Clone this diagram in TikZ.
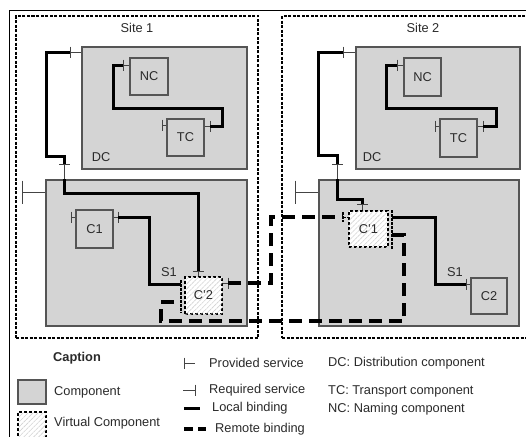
\documentclass[tikz,border=0pt]{standalone}
\usepackage{fontspec}
\setmainfont{Liberation Sans}
\usetikzlibrary{patterns,patterns.meta,calc}
\definecolor{compfill}{HTML}{D4D4D4}
\definecolor{edgec}{HTML}{555555}
\definecolor{txt}{HTML}{2A2A2A}
\newcommand\vtk[2][5.5]{\draw[iface] ([yshift=#1pt]#2) -- ([yshift=-#1pt]#2);}
\newcommand\htk[2][5.5]{\draw[iface] ([xshift=#1pt]#2) -- ([xshift=-#1pt]#2);}
\begin{document}
\begin{tikzpicture}[x=1pt,y=-1pt,
  every node/.style={font=\fontsize{12.8}{14}\selectfont, inner sep=0pt, text=txt},
  comp/.style={draw=edgec, fill=compfill, line width=1.1pt, minimum width=37pt, minimum height=37pt},
  vcomp/.style={draw=black, line width=1.4pt, dash pattern=on 3pt off 2pt, fill=white,
     postaction={pattern={Lines[angle=45,distance=3.5pt,line width=0.6pt]}, pattern color=gray!35},
     minimum width=37pt, minimum height=37pt},
  site/.style={draw=black, line width=1.3pt, dash pattern=on 3pt off 1.5pt},
  iface/.style={draw=edgec!80!black, line width=1pt},
  vdash/.style={draw=black, line width=1.3pt, dash pattern=on 2.5pt off 1.5pt},
  lb/.style={draw=black, line width=3pt, line join=miter},
  rb/.style={draw=black, line width=4pt, dash pattern=on 13pt off 7pt},
  lbl/.style={anchor=west}]
\useasboundingbox (0,0) rectangle (526,436);
\fill[white] (0,0) rectangle (526,436);
% outer frame
\draw[line width=0.8pt] (9,450) -- (9,10) -- (540,10);
% sites
\node[site, minimum width=242pt, minimum height=322pt] (S1) at (137,177) {};
\node[site, minimum width=253pt, minimum height=322pt] (S2) at (408.5,177) {};
\node (S1l) at (137,28) {Site 1};
\node (S2l) at (423,28) {Site 2};
% ---------- site 1 ----------
\node[comp, minimum width=165pt, minimum height=122pt] (DC1) at (164.5,108) {};
\node (DC1l) at (101,157) {DC};
\node[comp, minimum width=38pt] (NC1) at (149,76.5) {NC};
\node[comp] (TC1) at (185.5,137.5) {TC};
\node[comp, minimum width=201pt, minimum height=146pt] (LO1) at (146.5,253) {};
\node[comp, minimum height=38pt] (C1) at (94.5,229) {C1};
\node[vcomp] (V2) at (203.5,295.5) {C'2};
\node (S1a) at (169,272) {S1};
% interfaces site 1
\coordinate (dc1p) at (70,52);  \draw[iface] (dc1p) -- (dc1p -| DC1.west); \vtk{dc1p}
\coordinate (nc1r) at (123,65); \draw[iface] (nc1r) -- (nc1r -| NC1.west); \vtk{nc1r}
\coordinate (tc1p) at (210,126); \draw[iface] (tc1p) -- (tc1p -| TC1.east); \vtk{tc1p}
\coordinate (tc1l) at (162,125); \draw[iface] (tc1l) -- (tc1l -| TC1.west); \vtk{tc1l}
\coordinate (lo1t) at (64,164); \draw[iface] (lo1t) -- (lo1t |- LO1.north); \htk{lo1t}
\coordinate (lo1p) at (22,192); \draw[iface] (lo1p) -- (lo1p -| LO1.west); \vtk[11.5]{lo1p}
\coordinate (c1l) at (71,217); \draw[iface] (c1l) -- (c1l -| C1.west); \vtk{c1l}
\coordinate (c1r) at (118,217); \draw[iface] (c1r) -- (c1r -| C1.east); \vtk{c1r}
\coordinate (v2t) at (198,271); \draw[iface] (v2t) -- (v2t |- V2.north); \htk{v2t}
\coordinate (v2r) at (228,283); \draw[iface] (v2r) -- (v2r -| V2.east); \vtk{v2r}
\coordinate (v2l) at (181,284); \draw[vdash] ([yshift=4pt]v2l) -- ([yshift=-29pt]v2l);
\coordinate (v2x) at (174,302);
% local bindings site 1
\draw[lb] (nc1r) -| (113,108) -| (222,126) -- (tc1p);
\draw[lb] (dc1p) -| (46,156) -| (lo1t);
\draw[lb] (lo1t |- LO1.north) -- (64,193) -| (v2t);
\draw[lb] (c1r) -| (149,284) -- (v2l);
% ---------- site 2 ----------
\node[comp, minimum width=164pt, minimum height=122pt] (DC2) at (438,108) {};
\node (DC2l) at (372,157) {DC};
\node[comp, minimum height=38pt] (NC2) at (422.5,77) {NC};
\node[comp, minimum height=38pt] (TC2) at (458.5,138) {TC};
\node[comp, minimum width=200pt, minimum height=146pt] (LO2) at (419,253) {};
\node[vcomp, minimum width=39pt, minimum height=36pt] (V1) at (368.5,229) {C'1};
\node[comp, minimum width=36pt, minimum height=36pt] (C2) at (489,296) {C2};
\node (S2a) at (455,272) {S1};
% interfaces site 2
\coordinate (dc2p) at (343,52);  \draw[iface] (dc2p) -- (dc2p -| DC2.west); \vtk{dc2p}
\coordinate (nc2r) at (397,65); \draw[iface] (nc2r) -- (nc2r -| NC2.west); \vtk{nc2r}
\coordinate (tc2p) at (483,126); \draw[iface] (tc2p) -- (tc2p -| TC2.east); \vtk{tc2p}
\coordinate (tc2l) at (435,126); \draw[iface] (tc2l) -- (tc2l -| TC2.west); \vtk{tc2l}
\coordinate (lo2t) at (337,164); \draw[iface] (lo2t) -- (lo2t |- LO2.north); \htk{lo2t}
\coordinate (lo2p) at (295,192); \draw[iface] (lo2p) -- (lo2p -| LO2.west); \vtk[11.5]{lo2p}
\coordinate (v1t) at (362,204); \draw[iface] (v1t) -- (v1t |- V1.north); \htk{v1t}
\coordinate (v1l) at (343,217); \draw[vdash, line width=1pt] (v1l) -- (v1l -| V1.west);
\draw[vdash] ([yshift=5pt]v1l) -- ([yshift=-5pt]v1l);
\coordinate (v1r) at (392,217); \draw[vdash] ([yshift=7pt]v1r) -- ([yshift=-33pt]v1r);
\coordinate (v1x) at (392,235);
\coordinate (c2l) at (466,284); \draw[iface] (c2l) -- (c2l -| C2.west); \vtk{c2l}
% local bindings site 2
\draw[lb] (nc2r) -| (386,108) -| (496,126) -- (tc2p);
\draw[lb] (dc2p) -| (318,155) -| (lo2t);
\draw[lb] (lo2t |- LO2.north) -- (337,199) -| (v1t);
\draw[lb] (v1r) -| (435,284) -- (c2l);
% remote bindings
\draw[rb] (v2r) -| (271,217) -- (v1l);
\draw[rb] (v2x) -| (161,321) -| (404,235) -- (v1x);
% ---------- legend ----------
\node[lbl, font=\fontsize{12.8}{14}\selectfont\bfseries] (cap) at (53,358) {Caption};
\node[comp, minimum width=28pt, minimum height=24pt] (lgc) at (32,392) {};
\node[lbl] (lgct) at (54,392) {Component};
\node[vcomp, line width=1.2pt, minimum width=28pt, minimum height=28pt] (lgv) at (32,426) {};
\node[lbl] (lgvt) at (54,423) {Virtual Component};
\coordinate (lp) at (184,363); \draw[iface] (lp) -- (195,363); \vtk{lp}
\node[lbl] (lpt) at (209,363) {Provided service};
\coordinate (lr) at (195,390); \draw[iface] (183,390) -- (lr); \vtk{lr}
\node[lbl] (lrt) at (209,390) {Required service};
\coordinate (ll) at (184,408); \draw[lb] (ll) -- (200,408);
\node[lbl] (llt) at (212,408) {Local binding};
\coordinate (lrb) at (184,429); \draw[rb, dash pattern=on 9pt off 5pt] (lrb) -- (206,429);
\node[lbl] (lrbt) at (215,429) {Remote binding};
\node[lbl] (dct) at (328,363) {DC: Distribution component};
\node[lbl] (tct) at (328,391) {TC: Transport component};
\node[lbl] (nct) at (328,409) {NC: Naming component};
\end{tikzpicture}
\end{document}
